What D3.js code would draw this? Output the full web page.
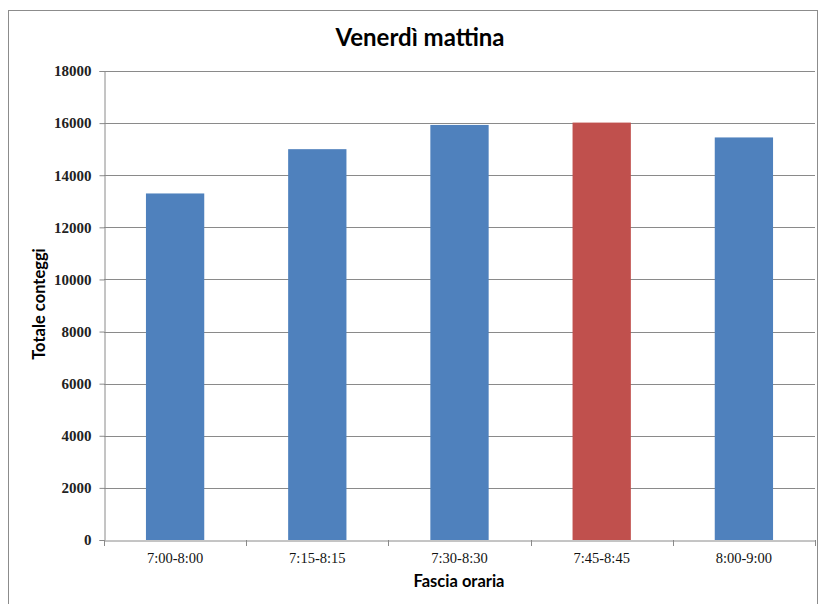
<!DOCTYPE html>
<html><head><meta charset="utf-8">
<script src="https://cdn.jsdelivr.net/npm/d3@7"></script>
<style>body{margin:0;background:#fff}</style>
</head><body>
<script>
const categories = ["7:00-8:00","7:15-8:15","7:30-8:30","7:45-8:45","8:00-9:00"];
const values = [13300, 15000, 15930, 16020, 15450];
const highlight = [false, false, false, true, false];
const yTicks = [0,2000,4000,6000,8000,10000,12000,14000,16000,18000];
const title = "Venerdì mattina";
const xTitle = "Fascia oraria";
const yTitle = "Totale conteggi";

const W = 820, H = 604;
const m = {left:104, right:815, top:71, bottom:540};
const svg = d3.select("body").append("svg").attr("width",W).attr("height",H);
svg.append("rect").attr("width",W).attr("height",H).attr("fill","#fff");
svg.append("rect").attr("x",8.5).attr("y",10.5).attr("width",809).attr("height",600)
  .attr("fill","none").attr("stroke","#8c8c8c").attr("stroke-width",1);

const x = d3.scaleBand().domain(categories).range([m.left,m.right]).paddingInner(0.59).paddingOuter(0.295);
const y = d3.scaleLinear().domain([0,18000]).range([m.bottom,m.top]);

// gridlines
svg.append("g").selectAll("line").data(yTicks.filter(d=>d>0)).join("line")
  .attr("x1",m.left).attr("x2",m.right)
  .attr("y1",d=>Math.round(y(d))+0.5).attr("y2",d=>Math.round(y(d))+0.5)
  .attr("stroke","#8a8a8a").attr("stroke-width",1);

// bars
svg.append("g").selectAll("rect").data(values).join("rect")
  .attr("x",(d,i)=>x(categories[i])).attr("width",x.bandwidth())
  .attr("y",d=>y(d)).attr("height",d=>m.bottom-y(d))
  .attr("fill",(d,i)=>highlight[i]?"#c0504d":"#4f81bd");

// y axis
const yAxis = svg.append("g").attr("transform",`translate(${m.left+0.5},0)`)
  .call(d3.axisLeft(y).tickValues(yTicks).tickFormat(d3.format("d")).tickSize(5).tickPadding(8));
yAxis.select(".domain").attr("stroke","#8a8a8a");
yAxis.selectAll(".tick line").attr("stroke","#8a8a8a");
yAxis.selectAll("text").attr("font-family","Liberation Serif, serif").attr("font-size",15)
  .attr("font-weight","bold").attr("fill","#222");

// x axis
const xAxis = svg.append("g").attr("transform",`translate(0,${m.bottom+0.5})`)
  .call(d3.axisBottom(x).tickSize(0).tickPadding(12));
xAxis.select(".domain").attr("stroke","#8a8a8a");
xAxis.selectAll("text").attr("font-family","Liberation Serif, serif").attr("font-size",14.5).attr("fill","#111");
// category boundary ticks
const step = x.step();
svg.append("g").selectAll("line").data(d3.range(categories.length+1)).join("line")
  .attr("x1",i=>Math.round(m.left+i*step)+0.5).attr("x2",i=>Math.round(m.left+i*step)+0.5)
  .attr("y1",m.bottom).attr("y2",m.bottom+6).attr("stroke","#8a8a8a");

// titles
svg.append("text").attr("x",420).attr("y",46).attr("text-anchor","middle")
  .attr("font-family","Lato, sans-serif").attr("font-weight","bold").attr("font-size",24)
  .attr("fill","#000").text(title);
svg.append("text").attr("x",459).attr("y",587).attr("text-anchor","middle")
  .attr("font-family","Lato, sans-serif").attr("font-weight","bold").attr("font-size",16.5)
  .attr("fill","#000").text(xTitle);
svg.append("text").attr("transform","translate(45,304) rotate(-90)").attr("text-anchor","middle")
  .attr("font-family","Lato, sans-serif").attr("font-weight","bold").attr("font-size",16.5)
  .attr("fill","#000").text(yTitle);
</script>
</body></html>
